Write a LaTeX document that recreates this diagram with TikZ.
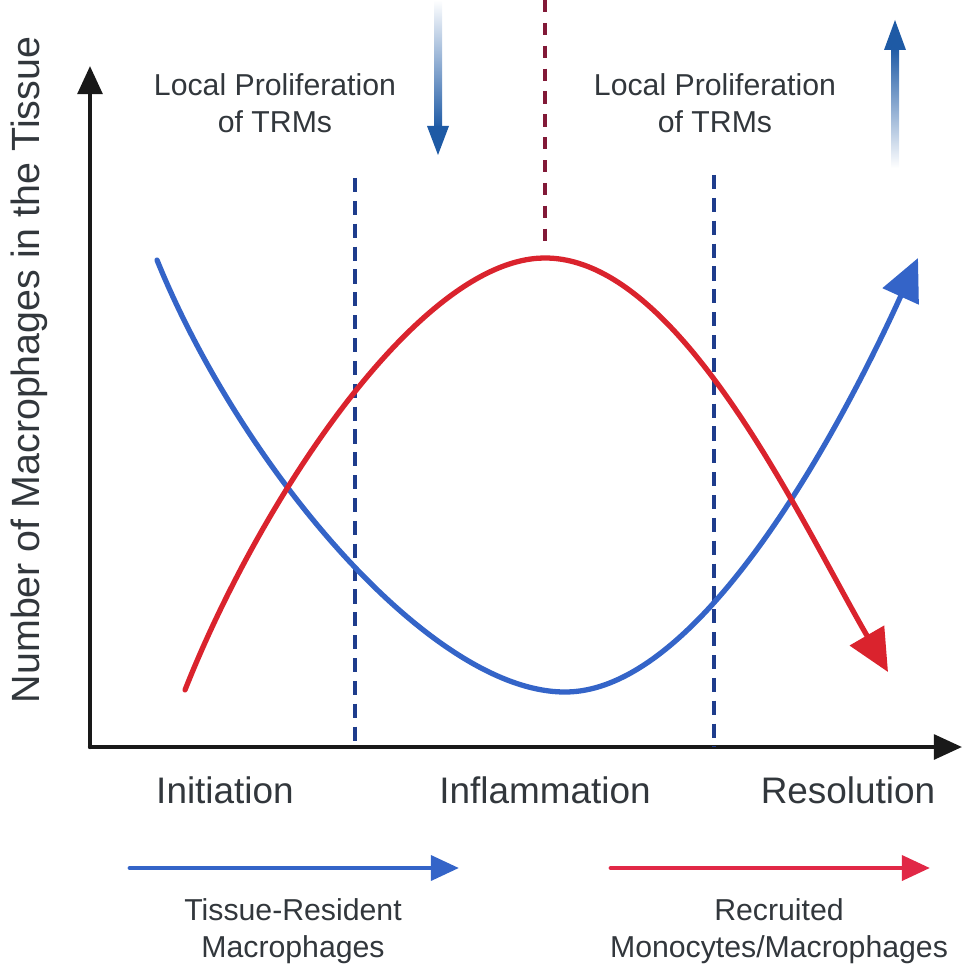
\documentclass[tikz,border=0pt]{standalone}
\usepackage{fontspec}
\setmainfont{Liberation Sans}
\usetikzlibrary{arrows.meta}

\begin{document}
\begin{tikzpicture}
		[x=0.01cm,y=-0.01cm,line cap=round,
		%Styles
		axis/.style={line width=1.2pt,draw=axiscolor,-{Triangle[length=8pt,width=7pt]}},
		curve/.style={line width=1.5pt,-{Triangle[length=12pt,width=11pt]}},
		phase line/.style={line width=1pt,line cap=butt,dash pattern=on 4pt off 2.5pt},
		key arrow/.style={line width=1.4pt,-{Triangle[length=8pt,width=7pt]}},
		phase text/.style={font=\fontsize{10.5}{12}\selectfont,text=textgray},
		info text/.style={font=\fontsize{8.6}{10.6}\selectfont,text=textgray,align=center}
		]
		
		%Colors
		\definecolor{axiscolor}{RGB}{25,25,25}
		\definecolor{textgray}{RGB}{50,55,60}
		\definecolor{trmblue}{RGB}{52,100,200}
		\definecolor{monored}{RGB}{218,35,45}
		\definecolor{keyred}{RGB}{225,40,70}
		\definecolor{prolifblue}{RGB}{30,90,165}
		\definecolor{phaseblue}{RGB}{30,60,140}
		\definecolor{peakred}{RGB}{130,25,55}
		
		%The graphic
		\useasboundingbox (0,0) rectangle (963,973);
		
		%axes
		\coordinate (O) at (90,747);
		\coordinate (ytop) at (90,66);
		\coordinate (xend) at (962,747);
		\draw[axis] (O) -- (ytop);
		\draw[axis] (O) -- (xend);
		\node[rotate=90,font=\fontsize{11.2}{13}\selectfont,text=textgray] (ylabel) at (29,370)
			{Number of Macrophages in the Tissue};
		
		%phase boundaries
		\coordinate (b1top) at (355,178);
		\coordinate (b1bot) at (355,747);
		\coordinate (b2top) at (714,175);
		\coordinate (b2bot) at (714,747);
		\coordinate (peaktop) at (545,0);
		\coordinate (peakbot) at (545,250);
		\draw[phase line,phaseblue] (b1top) -- (b1bot);
		\draw[phase line,phaseblue] (b2top) -- (b2bot);
		\draw[phase line,peakred,dash pattern=on 3.5pt off 3pt] (peaktop) -- (peakbot);
		
		%curves
		\coordinate (trmstart) at (157,260);
		\coordinate (trmmin) at (565,692);
		\coordinate (trmend) at (918,258);
		\draw[curve,trmblue] (trmstart) .. controls (240,465) and (430,692) .. (trmmin)
			.. controls (700,692) and (840,430) .. (trmend);
		
		\coordinate (mostart) at (185,690);
		\coordinate (mopeak) at (545,258);
		\coordinate (moend) at (888,672);
		\draw[curve,monored] (mostart) .. controls (260,500) and (420,258) .. (mopeak)
			.. controls (680,258) and (800,520) .. (moend);
		
		%proliferation arrows
		\shade[top color=white,bottom color=prolifblue] (434,0) rectangle (442,128);
		\fill[prolifblue] (427,126) -- (449,126) -- (438,155) -- cycle;
		\shade[top color=prolifblue,bottom color=white] (891,48) rectangle (899,168);
		\fill[prolifblue] (884,50) -- (906,50) -- (895,20) -- cycle;
		
		\node[info text] (prolif1) at (275,103) {Local Proliferation\\of TRMs};
		\node[info text] (prolif2) at (715,103) {Local Proliferation\\of TRMs};
		
		%phases
		\node[phase text] (init) at (225,790) {Initiation};
		\node[phase text] (infl) at (545,790) {Inflammation};
		\node[phase text] (reso) at (848,790) {Resolution};
		
		%key
		\coordinate (k1a) at (130,868);
		\coordinate (k1b) at (459,868);
		\coordinate (k2a) at (611,868);
		\coordinate (k2b) at (930,868);
		\draw[key arrow,trmblue] (k1a) -- (k1b);
		\draw[key arrow,keyred] (k2a) -- (k2b);
		\node[info text] (trmkey) at (293,931) {Tissue-Resident\\Macrophages};
		\node[info text] (mokey) at (779,931) {Recruited\\Monocytes/Macrophages};
	\end{tikzpicture}
\end{document}
